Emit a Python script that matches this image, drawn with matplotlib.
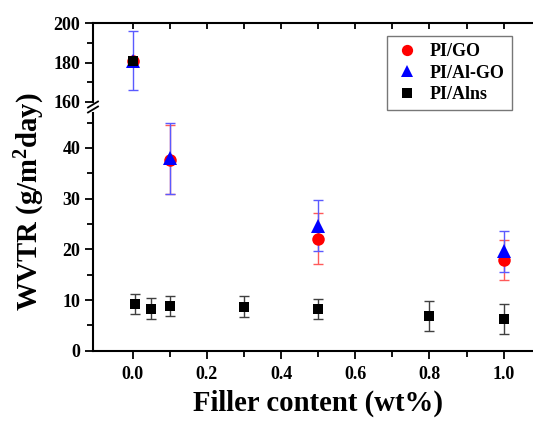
import matplotlib
matplotlib.use("Agg")
import matplotlib.pyplot as plt
from matplotlib.lines import Line2D

plt.rcParams['font.family'] = ['Liberation Serif', 'DejaVu Serif']
plt.rcParams['font.weight'] = 'bold'
plt.rcParams['mathtext.fontset'] = 'custom'
plt.rcParams['mathtext.rm'] = 'Liberation Serif:bold'
plt.rcParams['mathtext.bf'] = 'Liberation Serif:bold'
plt.rcParams['mathtext.it'] = 'Liberation Serif:bold'

# Data
go_x = [0.0, 0.1, 0.5, 1.0]
go_y = [181, 37.7, 22.1, 17.9]
go_err = [0, 6.8, 5, 4]

algo_x = [0.0, 0.1, 0.5, 1.0]
algo_y = [181, 38.0, 24.7, 19.6]
algo_err = [15, 7, 5, 4]

alns_x = [0.0, 0.005, 0.05, 0.1, 0.3, 0.5, 0.8, 1.0]
alns_y = [181, 9.2, 8.3, 8.8, 8.7, 8.2, 6.9, 6.2]
alns_err = [0, 2.0, 2.0, 2.0, 2.0, 2.0, 3.0, 3.0]

xticks = [0.0, 0.2, 0.4, 0.6, 0.8, 1.0]
lower_yticks = [0, 10, 20, 30, 40]
upper_yticks = [160, 180, 200]

W, H = 533, 421
fig = plt.figure(figsize=(W / 100, H / 100), dpi=100)

left = 93 / W
xr = (-0.107, 1.1)
right_px = 132.7 + 1.1 * 371
width = (right_px - 93) / W

y0_px = 350.7
ylo_top_px = 112.5
ax_lo = fig.add_axes([left, (H - y0_px) / H, width, (y0_px - ylo_top_px) / H])
up_top_px, up_bot_px = 23, 102
ax_up = fig.add_axes([left, (H - up_bot_px) / H, width, (up_bot_px - up_top_px) / H])

series = [
    (go_x, go_y, go_err, 'o', '#ff0000', '#ff5a5a', 9, 'PI/GO'),
    (algo_x, algo_y, algo_err, '^', '#0000ff', '#5a5aff', 9.5, 'PI/Al-GO'),
    (alns_x, alns_y, alns_err, 's', '#000000', '#404040', 7.5, 'PI/Alns'),
]

for ax in (ax_lo, ax_up):
    for xs, ys, es, m, c, ec, ms, lab in series:
        ax.errorbar(xs, ys, yerr=es, fmt='none', ecolor=ec, elinewidth=1.0,
                    capsize=3.5, capthick=1.0, zorder=2)
        ax.plot(xs, ys, linestyle='none', marker=m, color=c, markersize=ms,
                markeredgewidth=0, zorder=3)
    ax.set_xlim(*xr)
    ax.spines['right'].set_visible(False)
    for s in ax.spines.values():
        s.set_linewidth(1.5)

ax_lo.set_ylim(0, 47)
ax_lo.spines['top'].set_visible(False)
ax_lo.set_xticks(xticks)
ax_lo.set_xticks([0.1, 0.3, 0.5, 0.7, 0.9, 1.1], minor=True)
ax_lo.set_xticklabels([f"{v:.1f}" for v in xticks])
ax_lo.set_yticks(lower_yticks)
ax_lo.set_yticks([5, 15, 25, 35, 45], minor=True)
ax_lo.tick_params(axis='both', which='major', direction='out', length=6, width=1.3,
                  labelsize=13, pad=3)
ax_lo.tick_params(axis='x', which='major', pad=5)
ax_lo.tick_params(axis='both', which='minor', direction='out', length=4, width=1.3)

ax_up.set_ylim(160, 200)
ax_up.spines['bottom'].set_visible(False)
ax_up.set_yticks(upper_yticks)
ax_up.set_yticks([170, 190], minor=True)
ax_up.tick_params(axis='y', which='major', direction='out', length=6, width=1.3,
                  labelsize=13, pad=3)
ax_up.tick_params(axis='y', which='minor', direction='out', length=4, width=1.3)
ax_up.xaxis.set_ticks_position('top')
ax_up.set_xticks(xticks)
ax_up.set_xticks([0.1, 0.3, 0.5, 0.7, 0.9, 1.1], minor=True)
ax_up.tick_params(axis='x', which='both', direction='in', length=4, width=1.3,
                  labeltop=False, labelbottom=False)

for lab in ax_lo.get_xticklabels() + ax_lo.get_yticklabels() + ax_up.get_yticklabels():
    lab.set_fontweight('bold')

# break marks
bx = 93 / W
for yp in (104.5, 109.5):
    fig.add_artist(Line2D([bx - 5 / W, bx + 5 / W],
                          [(H - yp - 3) / H, (H - yp + 3) / H],
                          color='black', linewidth=1.3))

fig.text(318 / W, (H - 403) / H, 'Filler content (wt%)', ha='center', va='center',
         fontsize=20.7, fontweight='bold')
fig.text(30 / W, (H - 202) / H, r'WVTR (g/m$^{2}$day)', ha='center', va='center',
         rotation=90, fontsize=20.7, fontweight='bold')

handles = [Line2D([], [], linestyle='none', marker=m, color=c, markersize=ms * 0.9,
                  markeredgewidth=0) for _, _, _, m, c, _, ms, _ in series]
labels = [s[7] for s in series]
leg = fig.legend(handles, labels, loc='upper right',
                 bbox_to_anchor=(512 / W, (H - 36) / H), frameon=True, fancybox=False,
                 edgecolor='#555555', prop={'weight': 'bold', 'size': 13},
                 handletextpad=0.5, labelspacing=0.25, borderpad=0.4, handlelength=1.5,
                 borderaxespad=0)
leg.get_frame().set_linewidth(1.0)

fig.savefig('out.png', dpi=100)
